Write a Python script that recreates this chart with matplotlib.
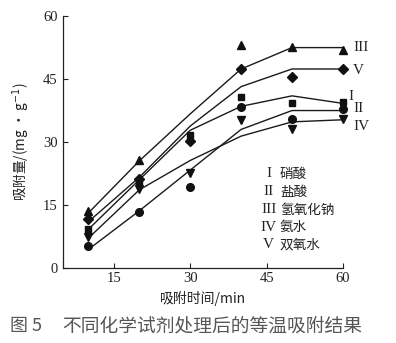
import matplotlib
matplotlib.use("Agg")
import matplotlib.pyplot as plt

plt.rcParams['font.family'] = ['Liberation Serif', 'Noto Sans CJK SC', 'DejaVu Sans']
plt.rcParams['axes.unicode_minus'] = False

# adsorption time (min)
times = [10, 20, 30, 40, 50, 60]

# measured adsorption amounts (mg/g) per treatment
meas_I = [9.3, 20.7, 31.7, 40.7, 39.2, 39.6]     # 硝酸, squares
meas_II = [5.3, 13.4, 19.2, 38.3, 35.6, 37.9]    # 盐酸, circles
meas_III = [13.6, 25.8, 31.0, 53.2, 52.6, 52.0]  # 氢氧化钠, up triangles
meas_IV = [7.4, 18.8, 22.5, 35.2, 33.0, 35.5]    # 氨水, down triangles
meas_V = [11.6, 21.3, 30.2, 47.4, 45.5, 47.3]    # 双氧水, diamonds

# fitted curves
fit_I = [9.2, 21.0, 32.8, 38.5, 41.0, 39.2]
fit_II = [4.4, 13.6, 23.3, 33.0, 37.5, 37.5]
fit_III = [13.1, 25.5, 36.7, 47.4, 52.5, 52.5]
fit_IV = [7.1, 18.6, 25.6, 31.4, 34.8, 35.3]
fit_V = [11.0, 21.6, 33.8, 43.2, 47.4, 47.4]

roman = ['I', 'II', 'III', 'IV', 'V']
reagents = ['硝酸', '盐酸', '氢氧化钠', '氨水', '双氧水']
markers = ['s', 'o', '^', 'v', 'D']
msizes = [5, 5.5, 6, 6, 4.7]

x_ticks = [15, 30, 45, 60]
y_ticks = [0, 15, 30, 45, 60]

measured = [meas_I, meas_II, meas_III, meas_IV, meas_V]
fitted = [fit_I, fit_II, fit_III, fit_IV, fit_V]

fig = plt.figure(figsize=(3.96, 3.43), dpi=100)
ax = fig.add_axes([0.159, 0.219, 0.707, 0.734])

for ys, yf, mk, ms in zip(measured, fitted, markers, msizes):
    ax.plot(times, yf, color='#1a1a1a', lw=1.0, clip_on=False, zorder=2)
    ax.plot(times, ys, linestyle='none', marker=mk, ms=ms, color='#111111',
            clip_on=False, zorder=3)

ax.set_xlim(5, 60)
ax.set_ylim(0, 60)
ax.set_xticks(x_ticks)
ax.set_yticks(y_ticks)
ax.tick_params(direction='in', length=3.5, width=0.8, labelsize=10.5,
               colors='#222222')
ax.tick_params(axis='x', pad=3)
ax.tick_params(axis='y', pad=4)
for s in ['top', 'right']:
    ax.spines[s].set_visible(False)
for s in ['left', 'bottom']:
    ax.spines[s].set_linewidth(0.9)
    ax.spines[s].set_color('#222222')

# curve labels at the right end
end_label_y = [40.8, 38.0, 52.5, 33.6, 47.0]
end_label_x = [61.0, 62.0, 62.0, 62.0, 62.0]
for r, lx, ly in zip(roman, end_label_x, end_label_y):
    ax.text(lx, ly, r, fontsize=11, family='Liberation Serif',
            ha='left', va='center', clip_on=False, color='#222222')

# key of reagents
key_y = [22.5, 18.2, 13.8, 9.7, 5.5]
for r, name, ky in zip(roman, reagents, key_y):
    ax.text(45.4, ky, r, fontsize=11, family='Liberation Serif',
            ha='center', va='center', color='#222222')
    ax.text(47.6, ky, name, fontsize=9.8, family='Noto Sans CJK SC',
            ha='left', va='center', color='#222222')

ax.set_xlabel('吸附时间/min', fontsize=10,
              family=['Noto Sans CJK SC', 'DejaVu Sans'], labelpad=4,
              color='#222222')
ax.set_ylabel('吸附量/(mg · g$^{-1}$)', fontsize=9.8,
              family=['Noto Sans CJK SC', 'DejaVu Sans'], labelpad=8,
              color='#222222')

fig.text(10 / 396, 0.05, '图 5', fontsize=13,
         family=['Noto Sans CJK SC', 'DejaVu Sans'], color='#555555',
         ha='left', va='center')
fig.text(62 / 396, 0.05, '不同化学试剂处理后的等温吸附结果', fontsize=13.5,
         family=['Noto Sans CJK SC', 'DejaVu Sans'], color='#555555',
         ha='left', va='center')

fig.savefig('out.png', dpi=100)
